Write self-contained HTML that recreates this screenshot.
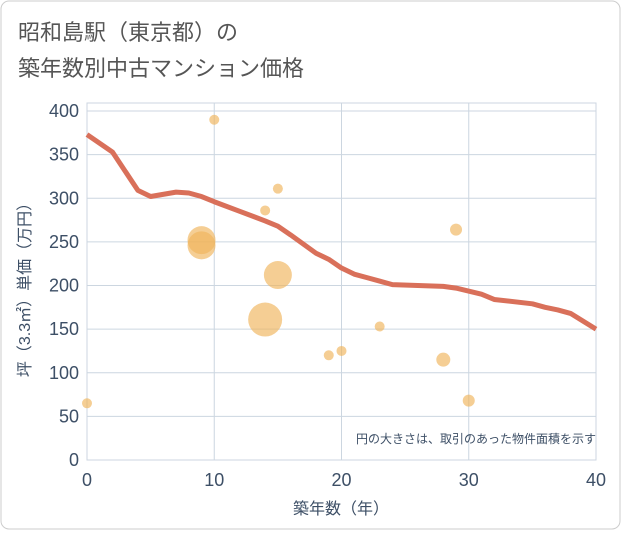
<!DOCTYPE html>
<html><head><meta charset="utf-8"><style>
body{margin:0;background:#fff;font-family:"Liberation Sans","Noto Sans CJK JP",sans-serif;}
#wrap{position:relative;width:621px;height:530px;}
</style></head><body>
<div id="wrap">
<svg id="chart" width="621" height="530" style="font-family:'Liberation Sans','Noto Sans CJK JP',sans-serif">
<rect x="1" y="1" width="619" height="528" rx="8" fill="#fff" stroke="#ccc"/>
<text x="18" y="40" font-size="22" fill="#555">昭和島駅（東京都）の</text>
<text x="18" y="76" font-size="22" fill="#555">築年数別中古マンション価格</text>
<g id="grid"></g>
<g id="bubbles"></g>
<path id="line" fill="none" stroke="#d9705a" stroke-width="5" stroke-linejoin="round"/>
<text x="596" y="443" font-size="12" fill="#3d4f66" text-anchor="end">円の大きさは、取引のあった物件面積を示す</text>
<text x="341" y="514" font-size="16" fill="#3d4f66" text-anchor="middle">築年数（年）</text>
<text transform="translate(30,286) rotate(-90)" font-size="16" fill="#3d4f66" text-anchor="middle">坪（3.3㎡）単価（万円）</text>
</svg>
</div>
<script>
const xTicks=[0,10,20,30,40];
const yTicks=[0,50,100,150,200,250,300,350,400];
const lineAges=[0,2,4,5,7,8,9,10,12,14,15,16,18,19,20,21,22,24,28,29,31,32,35,36,37,38,40];
const linePrices=[373,353,309,302,307,306,302,296,285,274,268,258,237,230,220,213,209,201,199,197,190,184,179,175,172,168,150];
const bubbleAges=[0,10,15,14,9,9,15,14,19,20,23,28,29,30];
const bubblePrices=[65,390,311,286,252,246,212,161,120,125,153,115,264,68];
const bubbleSizes=[5,5,5,5,14,14,14,17,5,5,5,7,6,6];
const X0=87,X1=596,Y0=460,Y1=111;
const sx=v=>X0+(v-0)/(40-0)*(X1-X0);
const sy=v=>Y0-(v-0)/(400-0)*(Y0-Y1);
const NS="http://www.w3.org/2000/svg";
const grid=document.getElementById('grid');
function mk(tag,attrs,parent){const e=document.createElementNS(NS,tag);for(const k in attrs)e.setAttribute(k,attrs[k]);parent.appendChild(e);return e;}
mk('rect',{x:X0,y:103,width:X1-X0,height:Y0-103,fill:'#fff',stroke:'#ccd6e0'},grid);
yTicks.forEach(t=>{
 const l=mk('line',{x1:X0,x2:X1,y1:sy(t),y2:sy(t),stroke:'#ccd6e0'},grid);
 
 
 const tx=mk('text',{x:79,y:sy(t)+6,'font-size':18,fill:'#3d4f66','text-anchor':'end'},grid);
 tx.textContent=t;
 
 
});
xTicks.forEach(t=>{
 const l=mk('line',{x1:sx(t),x2:sx(t),y1:103,y2:Y0,stroke:'#ccd6e0'},grid);
 
 
 const tx=mk('text',{x:sx(t),y:486,'font-size':18,fill:'#3d4f66','text-anchor':'middle'},grid);
 tx.textContent=t;
 
 
});
const bg=document.getElementById('bubbles');
bubbleAges.forEach((a,i)=>{
 const c=mk('circle',{cx:sx(a),cy:sy(bubblePrices[i]),r:bubbleSizes[i],fill:'rgba(240,180,90,0.65)'},bg);
 
 
});
document.getElementById('line').setAttribute('d',lineAges.map((a,i)=>(i?'L':'M')+sx(a)+','+sy(linePrices[i])).join(''));
</script>
</body></html>
